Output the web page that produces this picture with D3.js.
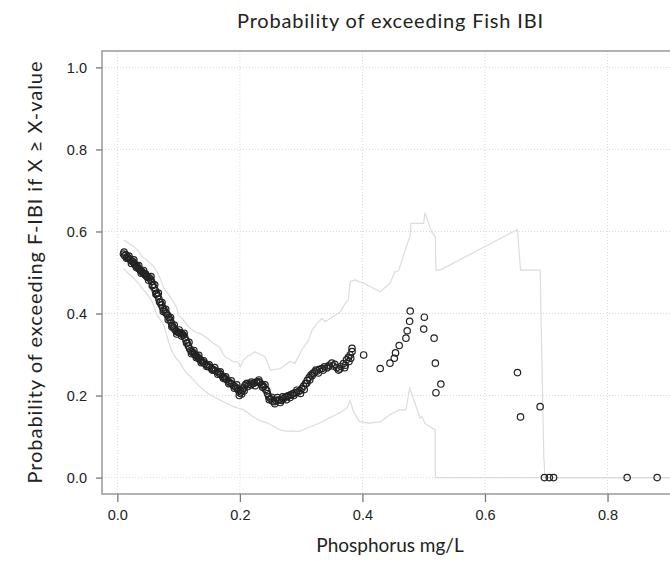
<!DOCTYPE html>
<html>
<head>
<meta charset="utf-8">
<script src="https://cdn.jsdelivr.net/npm/d3@7"></script>
<style>
  body { margin: 0; background: #fff; }
  .tick text { font-family: "Liberation Sans", Arial, sans-serif; font-size: 14.5px; fill: #222; }
  .ttl { font-family: Lato, "Open Sans", sans-serif; fill: #222; }
</style>
</head>
<body>
<svg width="670" height="572"></svg>
<script>
// observed points: P(F-IBI exceeded) against phosphorus
var pointX = [0.010,0.012,0.014,0.016,0.018,0.020,0.022,0.024,0.026,0.028,0.030,0.032,0.034,0.036,0.038,0.040,
  0.042,0.044,0.046,0.048,0.050,0.052,0.054,0.056,0.058,0.060,0.062,0.064,0.066,0.068,0.070,0.072,0.074,0.076,
  0.078,0.080,0.082,0.084,0.086,0.088,0.090,0.092,0.094,0.096,0.098,0.100,0.102,0.104,0.106,0.108,0.110,0.112,
  0.114,0.116,0.118,0.120,0.122,0.124,0.126,0.128,0.130,0.132,0.134,0.136,0.139,0.142,0.145,0.148,0.151,0.154,
  0.157,0.160,0.163,0.166,0.169,0.172,0.175,0.178,0.181,0.184,0.187,0.190,0.193,0.196,0.198,0.200,0.202,0.204,
  0.206,0.208,0.210,0.212,0.215,0.218,0.221,0.224,0.227,0.230,0.233,0.236,0.239,0.242,0.245,0.247,0.250,0.253,
  0.256,0.259,0.262,0.265,0.268,0.271,0.274,0.277,0.280,0.283,0.286,0.289,0.292,0.295,0.298,0.301,0.304,0.307,
  0.310,0.313,0.316,0.319,0.322,0.326,0.330,0.334,0.338,0.342,0.346,0.350,0.355,0.358,0.361,0.365,0.369,0.372,
  0.374,0.377,0.380,0.383,0.383,0.402,0.429,0.445,0.452,0.454,0.460,0.471,0.473,0.477,0.478,0.500,0.501,0.517,
  0.519,0.528,0.520,0.653,0.658,0.690,0.697,0.705,0.712,0.832,0.881,
  0.011,0.015,0.019,0.023,0.027,0.031,0.035,0.039,0.043,0.047,0.051,0.055,0.057,0.061,0.063,0.067,0.069,0.073,
  0.075,0.079,0.083,0.087,0.089,0.093,0.097,0.101,0.105,0.109,0.113,0.117,0.121,0.125,0.129,0.133,0.137,0.141,
  0.146,0.150,0.155,0.159,0.164,0.168,0.173,0.177,0.182,0.186,0.191,0.195,0.199,0.203,0.207,0.213,0.219,0.225,
  0.231,0.237,0.241,0.244,0.248,0.252,0.257,0.261,0.266,0.270,0.276,0.282,0.288,0.293,0.299,0.305,0.309,0.314,
  0.318,0.324,0.328,0.336,0.344,0.352,0.363,0.371,0.378,0.381];
var pointY = [0.545,0.541,0.543,0.538,0.535,0.533,0.530,0.527,0.526,0.521,0.518,0.516,0.511,0.508,0.505,0.503,
  0.499,0.496,0.497,0.490,0.488,0.487,0.484,0.478,0.470,0.463,0.456,0.449,0.443,0.435,0.427,0.421,0.414,0.409,
  0.404,0.400,0.396,0.390,0.384,0.378,0.370,0.365,0.361,0.357,0.355,0.354,0.353,0.352,0.350,0.347,0.342,0.335,
  0.328,0.321,0.314,0.310,0.307,0.304,0.301,0.298,0.295,0.292,0.289,0.286,0.282,0.279,0.276,0.272,0.269,0.266,
  0.263,0.261,0.258,0.255,0.251,0.247,0.243,0.239,0.235,0.231,0.228,0.224,0.221,0.217,0.212,0.206,0.209,0.213,
  0.218,0.224,0.228,0.230,0.227,0.226,0.229,0.231,0.233,0.234,0.231,0.227,0.222,0.215,0.205,0.197,0.192,0.187,
  0.185,0.188,0.189,0.189,0.188,0.192,0.196,0.198,0.200,0.202,0.204,0.206,0.207,0.209,0.212,0.217,0.223,0.229,
  0.237,0.244,0.250,0.254,0.257,0.260,0.264,0.266,0.270,0.267,0.274,0.279,0.276,0.268,0.262,0.271,0.278,0.274,
  0.287,0.293,0.299,0.307,0.315,0.299,0.266,0.279,0.291,0.304,0.322,0.340,0.358,0.381,0.406,0.362,0.391,0.340,
  0.279,0.228,0.207,0.256,0.148,0.173,0,0,0,0,0,
  0.550,0.535,0.540,0.522,0.531,0.512,0.517,0.498,0.505,0.492,0.481,0.490,0.468,0.470,0.447,0.450,0.428,0.427,
  0.405,0.410,0.385,0.390,0.368,0.372,0.350,0.360,0.345,0.352,0.328,0.330,0.302,0.310,0.292,0.298,0.280,0.285,
  0.271,0.275,0.262,0.268,0.252,0.258,0.242,0.246,0.229,0.236,0.218,0.226,0.200,0.204,0.212,0.222,0.233,0.224,
  0.238,0.220,0.226,0.212,0.190,0.196,0.180,0.195,0.183,0.197,0.190,0.195,0.200,0.213,0.205,0.215,0.230,0.238,
  0.248,0.262,0.255,0.262,0.270,0.272,0.265,0.268,0.283,0.291];

// upper and lower bounds (light grey lines)
var upperX = [0.010,0.018,0.027,0.034,0.040,0.046,0.051,0.058,0.065,0.070,0.076,0.081,0.086,0.092,0.097,0.100,
  0.105,0.110,0.114,0.119,0.124,0.130,0.135,0.141,0.146,0.152,0.158,0.163,0.168,0.173,0.178,0.184,0.190,0.195,
  0.198,0.201,0.206,0.212,0.217,0.225,0.230,0.241,0.250,0.266,0.282,0.290,0.301,0.312,0.318,0.326,0.334,0.339,
  0.355,0.364,0.372,0.377,0.380,0.388,0.407,0.429,0.445,0.453,0.459,0.470,0.478,0.479,0.500,0.502,0.513,0.519,
  0.520,0.527,0.653,0.658,0.690,0.696,0.698,0.920];
var upperY = [0.579,0.572,0.563,0.553,0.539,0.533,0.526,0.517,0.502,0.485,0.461,0.452,0.441,0.428,0.413,0.396,
  0.388,0.380,0.372,0.364,0.358,0.353,0.351,0.346,0.341,0.333,0.326,0.322,0.316,0.300,0.292,0.288,0.282,0.283,
  0.279,0.270,0.287,0.295,0.299,0.307,0.303,0.295,0.262,0.266,0.283,0.279,0.311,0.335,0.360,0.376,0.388,0.380,
  0.396,0.404,0.425,0.433,0.478,0.482,0.470,0.453,0.474,0.502,0.504,0.555,0.591,0.620,0.620,0.646,0.599,0.587,
  0.506,0.506,0.605,0.506,0.506,0.051,0,0];
var lowerX = [0.010,0.018,0.027,0.035,0.043,0.050,0.057,0.061,0.065,0.070,0.076,0.081,0.086,0.092,0.097,0.103,
  0.108,0.114,0.119,0.124,0.132,0.141,0.149,0.157,0.165,0.173,0.182,0.190,0.198,0.206,0.213,0.220,0.228,0.236,
  0.245,0.255,0.265,0.275,0.285,0.295,0.305,0.315,0.325,0.335,0.345,0.355,0.365,0.375,0.380,0.385,0.395,0.410,
  0.429,0.445,0.460,0.471,0.477,0.486,0.494,0.497,0.502,0.519,0.519,0.920];
var lowerY = [0.510,0.498,0.486,0.472,0.457,0.444,0.429,0.412,0.396,0.385,0.372,0.345,0.319,0.300,0.289,0.279,
  0.265,0.254,0.247,0.238,0.226,0.213,0.204,0.197,0.191,0.185,0.178,0.173,0.169,0.165,0.158,0.150,0.143,0.137,
  0.133,0.125,0.117,0.113,0.114,0.112,0.118,0.124,0.130,0.136,0.145,0.152,0.160,0.170,0.188,0.162,0.137,0.133,
  0.136,0.153,0.165,0.165,0.218,0.181,0.145,0.149,0.132,0.116,0,0];

var yTicks = [0, 0.2, 0.4, 0.6, 0.8, 1.0];
var xTicks = [0, 0.2, 0.4, 0.6, 0.8];

var svg = d3.select("svg");
var plotL = 102, plotR = 678, plotT = 51, plotB = 494;

var x = d3.scaleLinear().domain([-0.025, 0.915]).range([plotL, plotR]);
var y = d3.scaleLinear().domain([-0.04, 1.04]).range([plotB, plotT]);

// dotted grid
var grid = svg.append("g").attr("stroke", "#d8d8d8").attr("stroke-dasharray", "1,2");
grid.selectAll(".gx").data(xTicks).enter().append("line")
  .attr("x1", function(d) { return x(d); }).attr("x2", function(d) { return x(d); })
  .attr("y1", plotT).attr("y2", plotB);
grid.selectAll(".gy").data(yTicks).enter().append("line")
  .attr("x1", plotL).attr("x2", plotR)
  .attr("y1", function(d) { return y(d); }).attr("y2", function(d) { return y(d); });

var line = d3.line()
  .x(function(d) { return x(d[0]); })
  .y(function(d) { return y(d[1]); });

svg.append("path")
  .datum(d3.zip(upperX, upperY))
  .attr("fill", "none").attr("stroke", "#dcdcdc").attr("stroke-width", 1.2)
  .attr("d", line);
svg.append("path")
  .datum(d3.zip(lowerX, lowerY))
  .attr("fill", "none").attr("stroke", "#dcdcdc").attr("stroke-width", 1.2)
  .attr("d", line);

svg.append("g").selectAll("circle")
  .data(d3.zip(pointX, pointY))
  .enter().append("circle")
  .attr("cx", function(d) { return x(d[0]); })
  .attr("cy", function(d) { return y(d[1]); })
  .attr("r", 3.2)
  .attr("fill", "none")
  .attr("stroke", "#222")
  .attr("stroke-width", 1.2);

// frame: top, left, bottom
svg.append("path")
  .attr("d", "M" + plotR + "," + plotT + "H" + plotL + "V" + plotB + "H" + plotR)
  .attr("fill", "none").attr("stroke", "#999").attr("stroke-width", 1.5);

var xAxis = svg.append("g")
  .attr("transform", "translate(0," + plotB + ")")
  .call(d3.axisBottom(x).tickValues(xTicks).tickFormat(d3.format(".1f")).tickSize(8).tickPadding(8));
var yAxis = svg.append("g")
  .attr("transform", "translate(" + plotL + ",0)")
  .call(d3.axisLeft(y).tickValues(yTicks).tickFormat(d3.format(".1f")).tickSize(6).tickPadding(9));
[xAxis, yAxis].forEach(function(a) {
  a.select(".domain").remove();
  a.selectAll(".tick line").attr("stroke", "#777").attr("stroke-width", 1.3);
});

svg.append("text").attr("class", "ttl")
  .attr("x", 390).attr("y", 28).attr("text-anchor", "middle")
  .attr("textLength", 306).attr("lengthAdjust", "spacing")
  .style("font-size", "20px")
  .text("Probability of exceeding Fish IBI");
svg.append("text").attr("class", "ttl")
  .attr("x", 390).attr("y", 552).attr("text-anchor", "middle")
  .style("font-size", "19px")
  .text("Phosphorus mg/L");
svg.append("text").attr("class", "ttl")
  .attr("transform", "translate(42," + ((plotT + plotB) / 2) + ") rotate(-90)")
  .attr("text-anchor", "middle")
  .attr("textLength", 422).attr("lengthAdjust", "spacing")
  .style("font-size", "20px")
  .text("Probability of exceeding F-IBI if X \u2265 X-value");
</script>
</body>
</html>
